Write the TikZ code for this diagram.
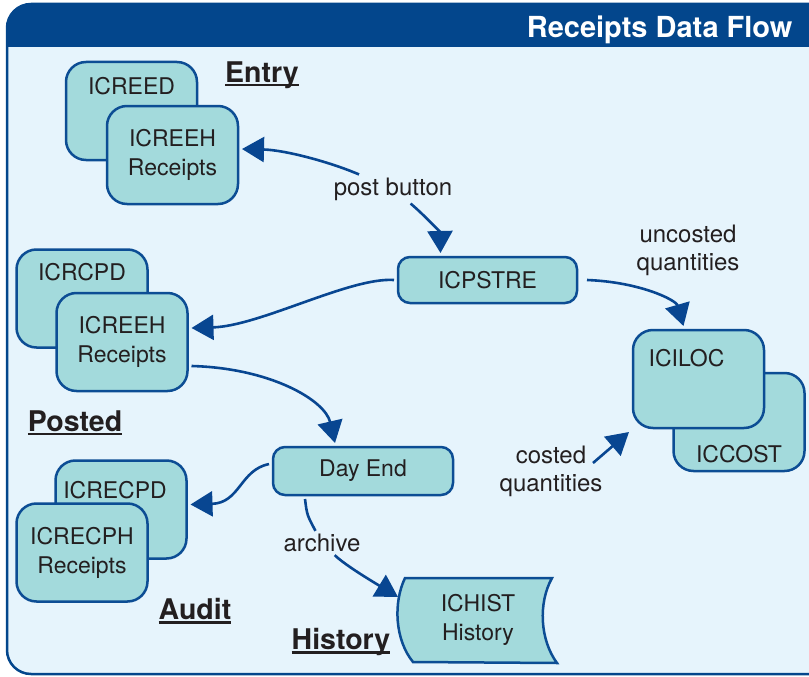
\documentclass[tikz,border=0pt]{standalone}
\usepackage{fontspec}
\setmainfont{TeX Gyre Heros}
\usetikzlibrary{arrows.meta}
\definecolor{framebg}{RGB}{230,244,252}
\definecolor{titleblue}{RGB}{3,70,140}
\definecolor{boxfill}{RGB}{163,218,220}
\definecolor{boxline}{RGB}{12,77,148}
\definecolor{flowblue}{RGB}{8,70,145}
\definecolor{inkgray}{RGB}{35,31,32}
\newcommand{\headul}[1]{\setbox0=\hbox{#1}\rlap{\rule[-4pt]{\wd0}{2.2pt}}\box0}

\begin{document}
\begin{tikzpicture}[x=1pt,y=-1pt]
    \tikzstyle{store} = [rectangle, rounded corners=20, minimum width=131, minimum height=98, draw=boxline, line width=2.5pt, fill=boxfill, outer sep=4pt, text=inkgray, align=center, font=\fontsize{23}{29}\selectfont]
\tikzstyle{proc} = [store, rounded corners=12, minimum width=179, minimum height=46]
\tikzstyle{note} = [text=inkgray, align=center, font=\fontsize{24}{28}\selectfont, inner sep=3pt]
\tikzstyle{head} = [text=inkgray, font=\fontsize{28.5}{32}\selectfont\bfseries]
\tikzstyle{every label} = [inner sep=0pt, text=inkgray, font=\fontsize{23}{29}\selectfont]
\tikzstyle{arrow} = [draw=flowblue, line width=2.6pt, -{Triangle[length=22pt,width=25pt]}]
\tikzstyle{line} = [draw=flowblue, line width=2.6pt]
    \useasboundingbox (0,0) rectangle (809,677);
\begin{scope}
  \clip (0,0) rectangle (809,677);
  \begin{scope}
    \clip[rounded corners=24] (7,4) rectangle (860,674);
    \fill[framebg] (7,4) rectangle (860,674);
    \fill[titleblue] (7,4) rectangle (860,47);
  \end{scope}
  \draw[titleblue, line width=2.5pt, rounded corners=24] (7,4) rectangle (860,674);
\end{scope}
\node (title) [anchor=east, text=white, font=\fontsize{29}{32}\selectfont\bfseries] at (796,30) {Receipts Data Flow};

\node (entryd) [store, label={[anchor=north, yshift=-19]north:ICREED}] at (131.5,111) {};
\node (entryh) [store] at (172.5,155) {ICREEH\\Receipts};
\node (postd) [store, label={[anchor=north, yshift=-18]north:ICRCPD}] at (82,298.5) {};
\node (posth) [store] at (122,342) {ICREEH\\Receipts};
\node (auditd) [store, label={[anchor=north, yshift=-25, xshift=-6]north:ICRECPD}] at (121,509.5) {};
\node (audith) [store] at (82,552.5) {ICRECPH\\Receipts};
\node (iccost) [store, label={[anchor=south, yshift=12]south:ICCOST}] at (739,422) {};
\node (iciloc) [store, label={[anchor=north, yshift=-23, xshift=-12]north:ICILOC}] at (698.5,379) {};
\node (pstre) [proc] at (487.5,280) {ICPSTRE};
\node (dayend) [proc, minimum width=180, minimum height=48] at (363,471) {Day End};

\filldraw[fill=boxfill, draw=boxline, line width=2.5pt] (405,578) -- (552,578) .. controls (538,603) and (540,640) .. (557,663) -- (413,662) .. controls (395,640) and (393,603) .. (405,578) -- cycle;
\node (hist) [note, font=\fontsize{23}{29}\selectfont, minimum width=152, minimum height=84, outer sep=4pt] at (478,620) {ICHIST\\History};

\node (entry) [head] at (262,75) {\headul{Entry}};
\node (posted) [head] at (75,423) {\headul{Posted}};
\node (audit) [head] at (195,611) {\headul{Audit}};
\node (history) [head] at (341,642) {\headul{History}};

\node (post) [note] at (393,189) {post button};
\node (uncosted) [note] at (688,250) {uncosted\\quantities};
\node (costed) [note] at (551,471) {costed\\quantities};
\node (archive) [note] at (322,543) {archive};

\draw[arrow] (post) .. controls (330,162) and (285,150) .. ([yshift=6]entryh.east);
\draw[arrow] (post) .. controls (422,213) and (440,232) .. ([xshift=-47]pstre.north);
\draw[arrow] (pstre.west) .. controls (350,277) and (260,326) .. ([yshift=14]posth.east);
\draw[arrow] ([xshift=6]pstre.east) .. controls (640,282) and (676,300) .. ([xshift=-15]iciloc.north);
\draw[arrow] ([yshift=-24]posth.east) .. controls (270,368) and (325,400) .. ([xshift=-28]dayend.north);
\draw[arrow] ([yshift=7]dayend.west) .. controls (240,470) and (240,503) .. ([yshift=5]auditd.east);
\draw[line] ([xshift=-58]dayend.south) .. controls (307,515) .. (archive);
\draw[arrow] (archive) .. controls (345,565) and (370,580) .. ([yshift=23]hist.west);
\draw[arrow] ([shift={(42,-8)}]costed.center) -- (iciloc.south west);
  \end{tikzpicture}
\end{document}
